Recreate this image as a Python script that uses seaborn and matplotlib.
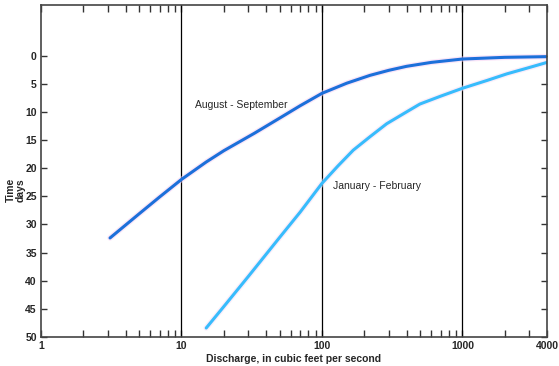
import matplotlib
matplotlib.use("Agg")
import matplotlib.pyplot as plt
from matplotlib.ticker import LogLocator, FixedLocator, NullFormatter
import seaborn as sns
import pandas as pd

# Data
aug_discharge = [3.1, 5, 7, 10, 15, 20, 33, 50, 70, 100, 150, 220, 300, 400, 600, 1000, 2000, 4000]
aug_days = [32.4, 28.1, 25.1, 22.0, 18.9, 16.9, 13.8, 11.1, 8.9, 6.7, 4.9, 3.5, 2.6, 1.9, 1.2, 0.6, 0.3, 0.18]

jan_discharge = [15, 20, 30, 50, 70, 100, 130, 167, 220, 289, 400, 498, 700, 1000, 1500, 2064, 3000, 4000]
jan_days = [48.4, 44.6, 39.2, 32.3, 27.8, 22.7, 19.6, 16.8, 14.4, 12.1, 10.0, 8.6, 7.2, 5.8, 4.4, 3.25, 2.1, 1.2]

x_tick_values = [1, 10, 100, 1000, 4000]
x_tick_labels = ["1", "10", "100", "1000", "4000"]
y_tick_values = [0, 5, 10, 15, 20, 25, 30, 35, 40, 45, 50]
grid_lines = [10, 100, 1000]
series_names = ["August - September", "January - February"]

sns.set_style("ticks")
plt.rcParams["font.family"] = ["Liberation Sans", "DejaVu Sans"]

df = pd.concat([
    pd.DataFrame({"Discharge": aug_discharge, "Days": aug_days, "Season": series_names[0]}),
    pd.DataFrame({"Discharge": jan_discharge, "Days": jan_days, "Season": series_names[1]}),
], ignore_index=True)

fig = plt.figure(figsize=(5.59, 3.66), dpi=100)
ax = fig.add_axes([41 / 559, 1 - 337 / 366, (547 - 41) / 559, (337 - 5) / 366])

# faint pink halo under the curves
sns.lineplot(data=df, x="Discharge", y="Days", hue="Season",
             palette={series_names[0]: "#f6cdf2", series_names[1]: "#f6dcf6"},
             lw=4.0, alpha=0.5, legend=False, ax=ax, sort=False)
sns.lineplot(data=df, x="Discharge", y="Days", hue="Season",
             palette={series_names[0]: "#1c70da", series_names[1]: "#38bcfc"},
             lw=2.2, legend=False, ax=ax, sort=False)
for ln in ax.get_lines():
    ln.set_solid_joinstyle("round")
    ln.set_solid_capstyle("round")

ax.set_xscale("log")
ax.set_xlim(1, 4000)
ax.set_ylim(50, -9)

for gx in grid_lines:
    ax.axvline(gx, color="black", lw=0.9, zorder=1)

ax.xaxis.set_major_locator(FixedLocator(x_tick_values))
ax.set_xticklabels(x_tick_labels)
ax.xaxis.set_minor_locator(LogLocator(base=10, subs=[2, 3, 4, 5, 6, 7, 8, 9], numticks=20))
ax.xaxis.set_minor_formatter(NullFormatter())
ax.set_yticks(y_tick_values)

ax.tick_params(axis="both", which="both", direction="in", top=True, right=True,
               color="#333333", width=1.0, labelsize=7.5, pad=3)
ax.tick_params(axis="x", which="minor", length=5)
ax.tick_params(axis="x", which="major", length=5)
ax.tick_params(axis="y", which="major", length=4)
for lbl in ax.get_xticklabels() + ax.get_yticklabels():
    lbl.set_fontweight("bold")

for sp in ax.spines.values():
    sp.set_color("#444444")
    sp.set_linewidth(1.2)

ax.set_xlabel("Discharge, in cubic feet per second", fontsize=7.5, fontweight="bold", labelpad=2)
ax.set_ylabel("")
fig.text(16 / 559, 1 - 190 / 366, "Time\ndays", rotation=90, ha="center", va="center",
         fontsize=7.5, fontweight="bold", linespacing=0.95)

ax.text(12.5, 8.8, series_names[0], fontsize=7.5, ha="left", va="center")
ax.text(120, 23.2, series_names[1], fontsize=7.5, ha="left", va="center")

fig.savefig("out.png", dpi=100)
